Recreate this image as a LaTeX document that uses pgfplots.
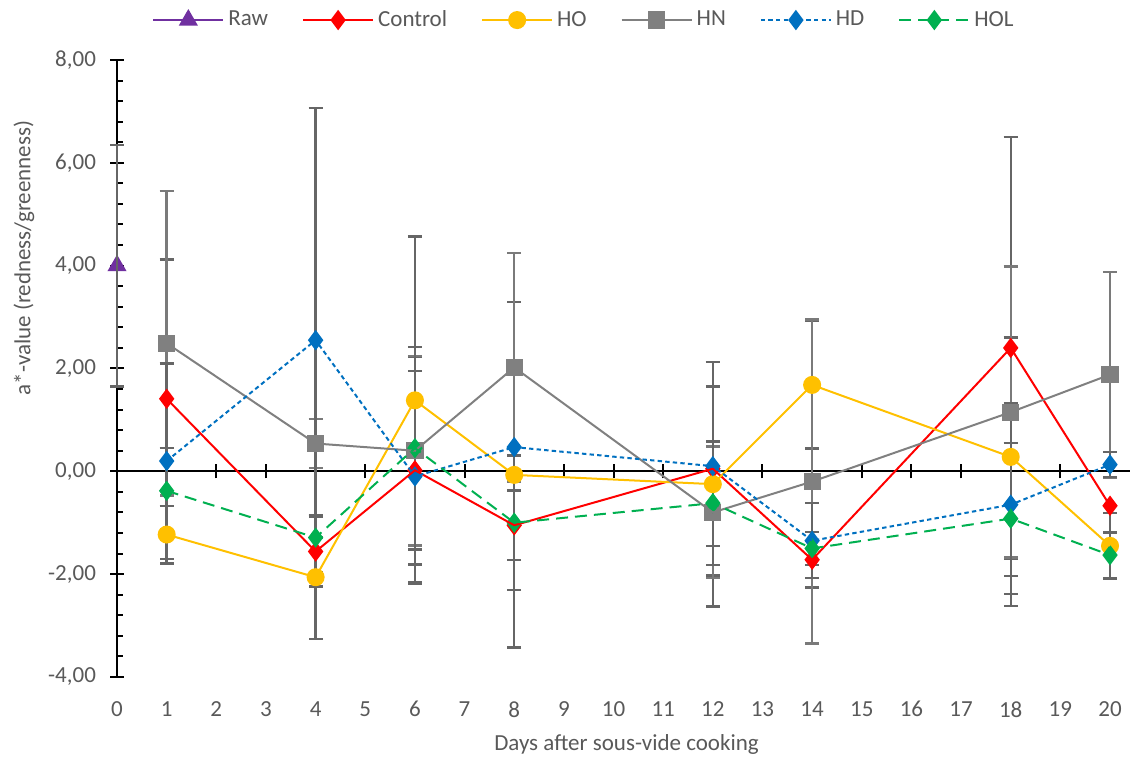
\documentclass[border=0pt]{standalone}
\usepackage{fontspec}
\setmainfont{Carlito}
\usepackage{pgfplots}
\pgfplotsset{compat=1.18}
\usepackage{pgfplotstable}

\definecolor{cRaw}{HTML}{7030A0}
\definecolor{cCon}{HTML}{FF0000}
\definecolor{cHO}{HTML}{FFC000}
\definecolor{cHN}{HTML}{808080}
\definecolor{cHD}{HTML}{0070C0}
\definecolor{cHOL}{HTML}{00B050}
\definecolor{eg}{HTML}{666666}
\definecolor{eg2}{HTML}{7A7A7A}
\definecolor{tg}{HTML}{595959}

\pgfplotstableread{
x y e
0 4.00 2.35
}\tRaw
\pgfplotstableread{
x y e
1 1.41 2.71
4 -1.56 0.68
6 0.02 2.20
8 -1.05 0.68
12 0.05 2.08
14 -1.72 0.54
18 2.40 4.10
20 -0.67 0
}\tCon
\pgfplotstableread{
x y e
1 -1.23 0.56
4 -2.06 1.20
6 1.38 3.19
8 -0.07 3.36
12 -0.25 2.38
14 1.68 1.24
18 0.28 2.32
20 -1.45 0.64
}\tHO
\pgfplotstableread{
x y e
1 2.49 2.96
4 0.54 0.48
6 0.40 1.84
8 2.02 2.22
12 -0.80 1.28
14 -0.20 3.15
18 1.15 2.83
20 1.88 2.00
}\tHN
\pgfplotstableread{
x y e
1 0.20 1.90
4 2.55 4.52
6 -0.10 2.05
8 0.47 0
12 0.10 1.55
14 -1.35 0.73
18 -0.65 1.97
20 0.13 0.24
}\tHD
\pgfplotstableread{
x y e
1 -0.38 0.83
4 -1.29 0
6 0.45 1.97
8 -1.00 1.31
12 -0.62 1.20
14 -1.50 0.32
18 -0.92 1.47
20 -1.63 0.44
}\tHOL

\begin{document}
\begin{tikzpicture}
\begin{axis}[
  set layers,
  x=24.825pt, y=25.71pt,
  xmin=0, xmax=20.4, ymin=-4, ymax=8,
  clip=false,
  axis x line=middle, axis y line=left,
  hide obscured x ticks=false, hide obscured y ticks=false,
  axis line style={-, line width=1pt, black},
  xtick={0,...,20}, ytick={-4,-2,...,8},
  minor y tick num=4,
  tick align=center,
  major tick length=7pt, minor tick length=3pt,
  tick style={black, line width=1pt},
  minor y tick style={xshift=1.5pt},
  /pgf/number format/assume math mode=true,
  font=\fontsize{11.5}{13}\selectfont,
  tick label style={font=\fontsize{11.5}{13}\selectfont, text=tg},
  xticklabel style={yshift=-108pt},
  yticklabel style={xshift=-3.5pt, /pgf/number format/.cd, fixed, fixed zerofill, precision=2, use comma},
  xlabel={Days after sous-vide cooking},
  ylabel={a*-value (redness/greenness)},
  x label style={at={(axis description cs:0.503,-0.110)}, anchor=center, text=tg, font=\fontsize{11.5}{13}\selectfont},
  y label style={at={(axis description cs:-0.0918,0.679)}, anchor=center, rotate=0, text=tg, font=\fontsize{11.5}{13}\selectfont},
  legend columns=6,
  legend style={draw=none, at={(axis description cs:0.462,1)}, anchor=south, yshift=11pt,
    font=\fontsize{11.5}{13}\selectfont, text=tg,
    /tikz/every even column/.append style={column sep=15pt}},
  legend image code/.code={\draw[mark repeat=2, mark phase=2, #1] plot coordinates {(0pt,0pt) (17.5pt,0pt) (35pt,0pt)};},
  errs/.style={forget plot, only marks, mark=none, draw=#1,
    error bars/.cd, y dir=both, y explicit,
    error mark=-,
    error bar style={draw=#1, line width=1.2pt, solid},
    error mark options={draw=#1, line width=1.2pt, mark size=3.5pt, rotate=90}},
  errs/.default=eg,
]
\addplot[on layer=axis foreground, errs] table[x=x, y=y, y error=e] {\tRaw};
\addplot[errs] table[x=x, y=y, y error=e] {\tCon};
\addplot[errs] table[x=x, y=y, y error=e] {\tHO};
\addplot[errs=eg2] table[x=x, y=y, y error=e] {\tHN};
\addplot[errs] table[x=x, y=y, y error=e] {\tHD};
\addplot[errs] table[x=x, y=y, y error=e] {\tHOL};

\addplot[on layer=axis foreground, cRaw, line width=1pt, mark=triangle*, mark size=4.5pt, mark options={fill=cRaw, draw=cRaw}] table[x=x, y=y] {\tRaw};
\addlegendentry{Raw}
\addplot[on layer=axis foreground, cCon, line width=1pt, mark=diamond*, mark size=4.3pt, mark options={fill=cCon, draw=cCon}] table[x=x, y=y] {\tCon};
\addlegendentry{Control}
\addplot[on layer=axis foreground, cHO, line width=1pt, mark=*, mark size=4pt, mark options={fill=cHO, draw=cHO}] table[x=x, y=y] {\tHO};
\addlegendentry{HO}
\addplot[on layer=axis foreground, cHN, line width=1pt, mark=square*, mark size=3.8pt, mark options={fill=cHN, draw=cHN}] table[x=x, y=y] {\tHN};
\addlegendentry{HN}
\addplot[on layer=axis foreground, cHD, line width=1pt, dash pattern=on 2.2pt off 1.6pt, mark=diamond*, mark size=4.3pt, mark options={solid, fill=cHD, draw=cHD}] table[x=x, y=y] {\tHD};
\addlegendentry{HD}
\addplot[on layer=axis foreground, cHOL, line width=1pt, dash pattern=on 6pt off 3.5pt, mark=diamond*, mark size=4.3pt, mark options={solid, fill=cHOL, draw=cHOL}] table[x=x, y=y] {\tHOL};
\addlegendentry{HOL}

\coordinate (bbTL) at (axis cs:-2.357,9.166);
\coordinate (bbBR) at (axis cs:20.443,-5.615);
\end{axis}
\pgfresetboundingbox
\path (bbTL) rectangle (bbBR);
\end{tikzpicture}
\end{document}
